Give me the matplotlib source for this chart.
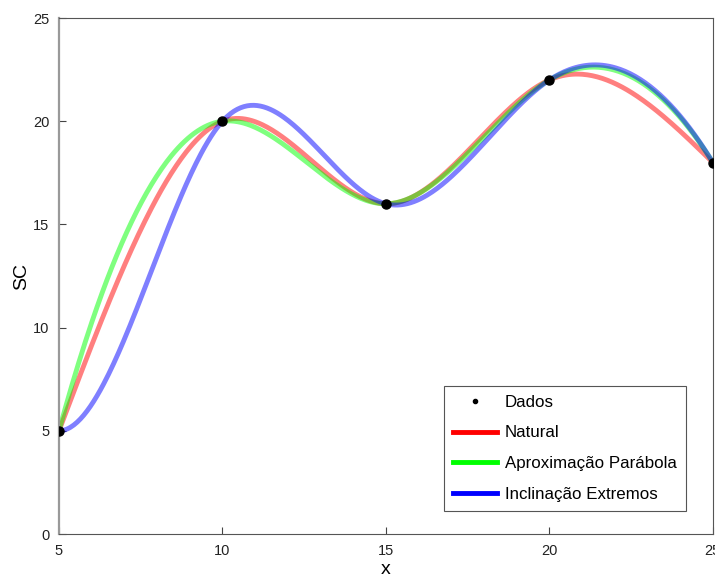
import numpy as np
import matplotlib.pyplot as plt
from matplotlib.lines import Line2D

plt.rcParams['font.family'] = ['Liberation Sans', 'DejaVu Sans']

# pontos medidos
x_dados = [5, 10, 15, 20, 25]
y_dados = [5, 20, 16, 22, 18]

# inclinações impostas nos extremos
incl_ini = 0.0
incl_fim = -2.6


def spline_cubica(x, y, tipo, s0=0.0, sn=0.0):
    x = np.asarray(x, float)
    y = np.asarray(y, float)
    n = len(x)
    h = np.diff(x)
    A = np.zeros((n, n))
    b = np.zeros(n)
    for i in range(1, n - 1):
        A[i, i - 1] = h[i - 1]
        A[i, i] = 2 * (h[i - 1] + h[i])
        A[i, i + 1] = h[i]
        b[i] = 6 * ((y[i + 1] - y[i]) / h[i] - (y[i] - y[i - 1]) / h[i - 1])
    if tipo == 'natural':
        A[0, 0] = 1
        A[-1, -1] = 1
    elif tipo == 'parabola':
        A[0, 0], A[0, 1] = 1, -1
        A[-1, -1], A[-1, -2] = 1, -1
    else:
        A[0, 0], A[0, 1] = 2 * h[0], h[0]
        b[0] = 6 * ((y[1] - y[0]) / h[0] - s0)
        A[-1, -2], A[-1, -1] = h[-1], 2 * h[-1]
        b[-1] = 6 * (sn - (y[-1] - y[-2]) / h[-1])
    M = np.linalg.solve(A, b)

    xs, ys = [], []
    for i in range(n - 1):
        t = np.linspace(x[i], x[i + 1], 100)
        a = x[i + 1] - t
        c = t - x[i]
        s = (M[i] * a**3 + M[i + 1] * c**3) / (6 * h[i]) \
            + (y[i] / h[i] - M[i] * h[i] / 6) * a \
            + (y[i + 1] / h[i] - M[i + 1] * h[i] / 6) * c
        xs.append(t)
        ys.append(s)
    return np.concatenate(xs), np.concatenate(ys)


fig = plt.figure(figsize=(7.15, 5.76), dpi=100)
ax = fig.add_axes([0.0825, 0.0729, 0.9145, 0.8958])

xn, yn = spline_cubica(x_dados, y_dados, 'natural')
xp, yp = spline_cubica(x_dados, y_dados, 'parabola')
xc, yc = spline_cubica(x_dados, y_dados, 'extremos', incl_ini, incl_fim)

ax.plot(xn, yn, color=(1, 0, 0), alpha=0.5, lw=3.5)
ax.plot(xp, yp, color=(0, 1, 0), alpha=0.5, lw=3.5)
ax.plot(xc, yc, color=(0, 0, 1), alpha=0.5, lw=3.5)
ax.plot(x_dados, y_dados, 'o', color='black', ms=6.5, zorder=5)

ax.set_xlim(5, 25)
ax.set_ylim(0, 25)
ax.set_xticks([5, 10, 15, 20, 25])
ax.set_yticks([0, 5, 10, 15, 20, 25])
ax.tick_params(direction='in', length=5, color='#444444', labelsize=10.5,
               labelcolor='#222222', pad=7)
for sp in ax.spines.values():
    sp.set_color('#555555')
    sp.set_linewidth(0.8)
ax.spines['left'].set_color('#999999')
ax.spines['left'].set_linewidth(1.6)

ax.set_xlabel('x', fontsize=14, labelpad=2)
ax.set_ylabel('SC', fontsize=14, labelpad=2)

handles = [
    Line2D([], [], marker='.', ls='none', color='black', ms=6),
    Line2D([], [], color='red', lw=3.5),
    Line2D([], [], color=(0, 1, 0), lw=3.5),
    Line2D([], [], color='blue', lw=3.5),
]
nomes = ['Dados', 'Natural', 'Aproximação Parábola', 'Inclinação Extremos']
leg = ax.legend(handles, nomes, loc='lower right', bbox_to_anchor=(0.9587, 0.0446),
                fontsize=12.2, fancybox=False, framealpha=1, edgecolor='#555555',
                handlelength=2.6, handletextpad=0.45, labelspacing=0.92,
                borderpad=0.55, borderaxespad=0)
leg.get_frame().set_linewidth(0.8)

fig.savefig('out.png', dpi=100)
